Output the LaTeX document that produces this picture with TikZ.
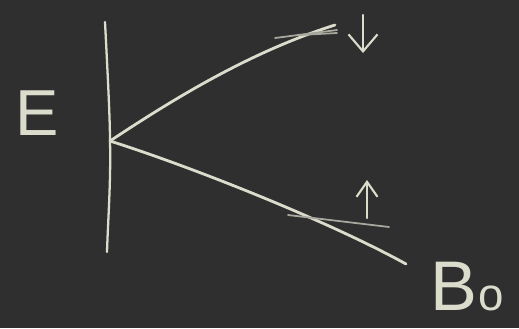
\documentclass[tikz,border=0pt]{standalone}
\usepackage{fontspec}
\setmainfont{Liberation Sans}
\usetikzlibrary{arrows.meta}
\definecolor{board}{HTML}{2F2F2F}
\definecolor{chalk}{HTML}{DCDCCD}
\begin{document}
\begin{tikzpicture}[
        x=0.02cm, y=-0.02cm,
        chalkline/.style={draw=chalk, line width=1.6pt, line cap=round},
        faintline/.style={draw=chalk!70!board, line width=1pt, line cap=round},
        spin/.style={draw=chalk, line width=1.2pt, line cap=round,
            -{Straight Barb[length=0.34cm, width=0.58cm, line width=1.2pt]}},
        label/.style={text=chalk, inner sep=0pt, font=\fontsize{37}{37}\selectfont}
    ]
        \fill[board] (0,0) rectangle (519,328);
        \useasboundingbox (0,0) rectangle (519,328);

        % energy axis
        \coordinate (axtop) at (105,22);
        \coordinate (origin) at (110,141);
        \coordinate (axbot) at (107,252);
        \draw[chalkline, line width=1.3pt] (axtop) .. controls (108,80) and (110,120) .. (origin)
            .. controls (111,180) and (108,220) .. (axbot);
        \node[label] (elabel) at (37,113) {E};

        % split levels
        \coordinate (upend) at (335,25);
        \coordinate (lowend) at (406,264);
        \draw[chalkline] (origin) .. controls (175,98) and (250,52) .. (upend);
        \draw[chalkline] (origin) .. controls (195,168) and (330,222) .. (lowend);

        % level marks
        \draw[faintline] (275,38) -- (337,30);
        \draw[faintline] (300,35) -- (337,33);
        \draw[faintline] (288,215) -- (389,227);

        % spin arrows
        \coordinate (dntop) at (363,15);
        \coordinate (dnbot) at (363,53);
        \coordinate (upbot) at (367,218);
        \coordinate (uptop) at (367,180);
        \draw[spin] (dntop) -- (dnbot);
        \draw[spin, -{Straight Barb[length=0.3cm, width=0.42cm, line width=1.2pt]}] (upbot) -- (uptop);

        % field label
        \node[label, font=\fontsize{40}{40}\selectfont, anchor=base west] (bfield) at (430,310)
            {B\kern1pt\fontsize{26}{26}\selectfont o};
\end{tikzpicture}
\end{document}
